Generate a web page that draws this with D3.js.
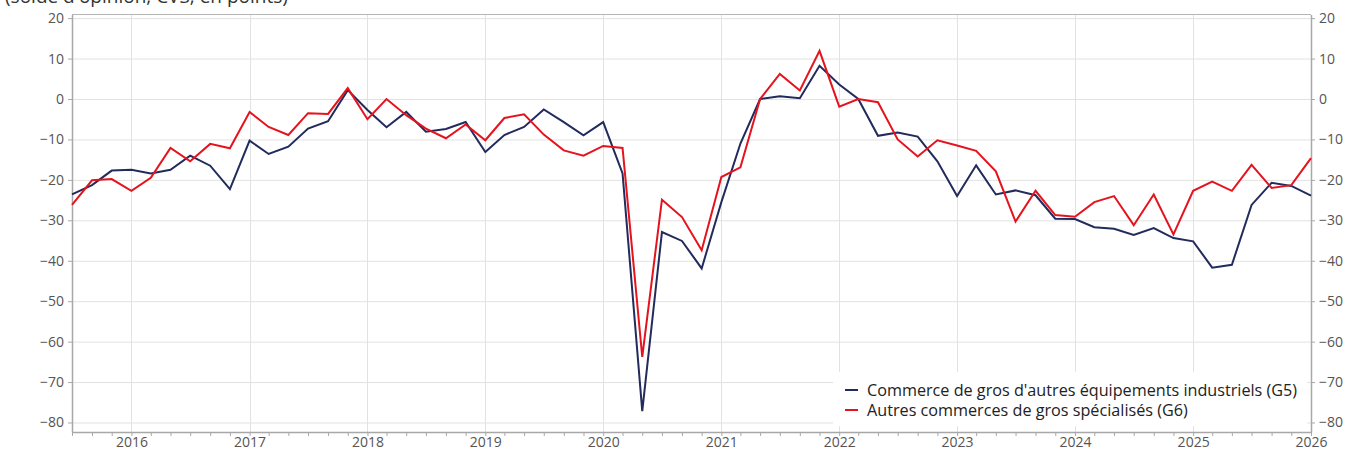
<!DOCTYPE html>
<html><head><meta charset="utf-8">
<script src="https://cdn.jsdelivr.net/npm/d3@7"></script>
<style>
html,body{margin:0;padding:0;background:#fff;}
text{font-family:"Open Sans",sans-serif;}
</style></head>
<body><svg id="c" width="1345" height="450"></svg>
<script>
// Bimonthly observations, Jul 2015 .. Jan 2026
const startYear = 2015, startMonth = 6; // July (0-based)
const seriesG5 = [-23.6,-21.3,-17.7,-17.5,-18.4,-17.5,-14.0,-16.5,-22.3,-10.3,-13.6,-11.8,-7.3,-5.5,2.2,-2.7,-7.0,-3.2,-8.1,-7.4,
  -5.7,-13.1,-8.9,-6.9,-2.6,-5.7,-9.0,-5.7,-18.4,-77.2,-32.9,-35.1,-41.9,-25.5,-11.0,0.0,0.7,0.2,8.2,3.6,
  0.0,-9.1,-8.3,-9.3,-15.4,-24.0,-16.4,-23.6,-22.6,-23.8,-29.6,-29.7,-31.7,-32.1,-33.6,-31.9,-34.4,-35.2,-41.7,-41.0,
  -26.2,-20.7,-21.5,-23.9];
const seriesG6 = [-26.2,-20.1,-19.8,-22.7,-19.5,-12.1,-15.4,-11.1,-12.2,-3.2,-6.9,-8.9,-3.5,-3.7,2.7,-5.0,0.0,-4.0,-7.3,-9.7,
  -6.3,-10.2,-4.7,-3.8,-8.8,-12.7,-14.0,-11.6,-12.1,-63.8,-24.9,-29.2,-37.4,-19.3,-16.9,0.0,6.2,2.1,11.9,-1.9,
  0.0,-0.8,-10.0,-14.2,-10.2,-11.5,-12.8,-17.9,-30.3,-22.7,-28.7,-29.1,-25.5,-24.0,-31.2,-23.6,-33.5,-22.7,-20.4,-22.7,
  -16.3,-22.0,-21.3,-14.6];
const seriesNames = ["Commerce de gros d'autres équipements industriels (G5)", "Autres commerces de gros spécialisés (G6)"];
const seriesColors = ["#222b5b", "#e5131d"];
const yTicks = [20,10,0,-10,-20,-30,-40,-50,-60,-70,-80];
const yearTicks = [2016,2017,2018,2019,2020,2021,2022,2023,2024,2025,2026];
const subtitle = "(solde d'opinion, CVS, en points)";

const dates = seriesG5.map((_, i) => new Date(startYear, startMonth + 2*i, 1));

const svg = d3.select("#c");
const L = 72, R = 1311, T = 14.5, B = 432;
const x = d3.scaleTime().domain([dates[0], dates[dates.length-1]]).range([L, R]);
const y = d3.scaleLinear().domain([-82.35, 20.9]).range([B, T]);

// subtitle (partly above the top edge, as in the source)
svg.append("text").attr("x", 5).attr("y", 3).attr("font-size", 19).attr("fill", "#333").text(subtitle);

// gridlines
const g = svg.append("g");
g.selectAll("line.h").data(yTicks).join("line")
  .attr("x1", L).attr("x2", R).attr("y1", d => y(d)+0.5).attr("y2", d => y(d)+0.5)
  .attr("stroke", "#e2e2e2").attr("stroke-width", 1);
g.selectAll("line.v").data(yearTicks.slice(0, -1)).join("line")
  .attr("x1", d => Math.round(x(new Date(d,0,1)))+0.5).attr("x2", d => Math.round(x(new Date(d,0,1)))+0.5)
  .attr("y1", T).attr("y2", B).attr("stroke", "#e2e2e2").attr("stroke-width", 1);

// frame top
svg.append("line").attr("x1", L).attr("x2", R).attr("y1", T).attr("y2", T).attr("stroke", "#b5b5b5");

// axes
const axisStyle = sel => {
  sel.select(".domain").attr("stroke", "#a8a8a8").attr("stroke-width", 1.5);
  sel.selectAll(".tick line").attr("stroke", "#a8a8a8");
  sel.selectAll(".tick text").attr("fill", "#555").attr("font-size", 14).attr("font-family", "'Open Sans',sans-serif");
};
svg.append("g").attr("transform", `translate(${L},0)`)
  .call(d3.axisLeft(y).tickValues(yTicks).tickSize(4).tickSizeOuter(0).tickPadding(4)).call(axisStyle);
svg.append("g").attr("transform", `translate(${R},0)`)
  .call(d3.axisRight(y).tickValues(yTicks).tickSize(4).tickSizeOuter(0).tickPadding(4)).call(axisStyle);
svg.append("g").attr("transform", `translate(0,${B})`)
  .call(d3.axisBottom(x).tickValues(dates).tickSize(4).tickSizeOuter(0).tickFormat(() => "")).call(axisStyle);
svg.append("g").attr("transform", `translate(0,${B})`)
  .call(d3.axisBottom(x).tickValues(yearTicks.map(d => new Date(d,0,1))).tickSize(0).tickPadding(5)
    .tickFormat(d3.timeFormat("%Y"))).call(axisStyle).select(".domain").remove();

// lines
const line = d3.line().x((d, i) => x(dates[i])).y(d => y(d));
[seriesG5, seriesG6].forEach((s, k) => {
  svg.append("path").datum(s).attr("d", line).attr("fill", "none")
    .attr("stroke", seriesColors[k]).attr("stroke-width", 2).attr("stroke-linejoin", "miter");
});

// legend
const lg = svg.append("g");
lg.append("rect").attr("x", 833).attr("y", 372).attr("width", 474).attr("height", 54).attr("fill", "#fff");
seriesNames.forEach((n, k) => {
  const cy = 390 + k*20;
  lg.append("line").attr("x1", 845).attr("x2", 858).attr("y1", cy).attr("y2", cy)
    .attr("stroke", seriesColors[k]).attr("stroke-width", 2);
  lg.append("text").attr("x", 867).attr("y", cy).attr("dy", "0.35em").attr("font-size", 16.2)
    .attr("fill", "#222").text(n);
});
</script></body></html>
